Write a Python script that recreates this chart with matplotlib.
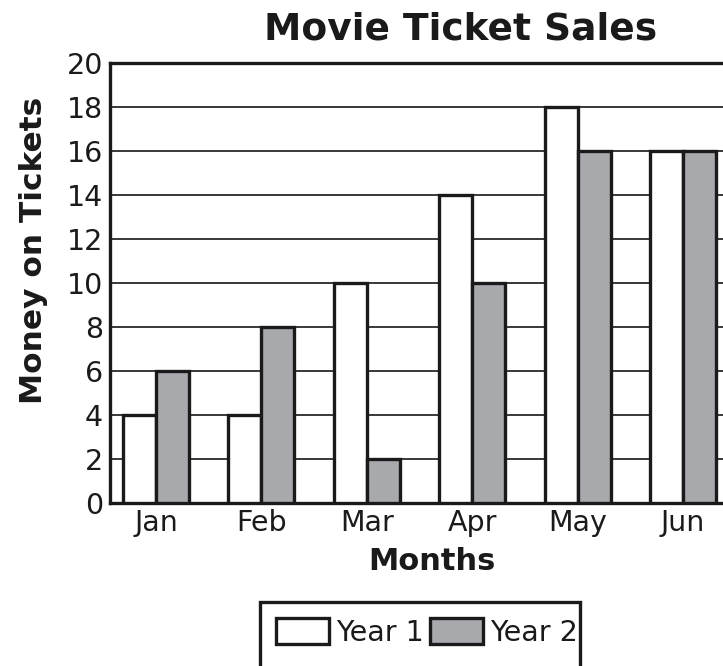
import numpy as np
import matplotlib
matplotlib.use('Agg')
import matplotlib.pyplot as plt
from matplotlib.patches import Rectangle

months = ['Jan', 'Feb', 'Mar', 'Apr', 'May', 'Jun']
year1 = [4, 4, 10, 14, 18, 16]
year2 = [6, 8, 2, 10, 16, 16]
y_ticks = list(range(0, 21, 2))

GRAY = '#a7a9ac'
INK = '#1a1a1a'
plt.rcParams['font.family'] = 'DejaVu Sans'

fig = plt.figure(figsize=(7.23, 6.66), dpi=100)
ax = fig.add_axes([110/723, 163/666, 619/723, 440/666])

x = np.arange(len(months))
w = 0.313
ax.bar(x - w/2, year1, w, color='white', edgecolor=INK, lw=2.4, label='Year 1', zorder=3)
ax.bar(x + w/2, year2, w, color=GRAY, edgecolor=INK, lw=2.4, label='Year 2', zorder=3)

ax.set_xlim(-0.436, len(months) - 1 + 0.436)
ax.set_ylim(0, 20)
ax.set_yticks(y_ticks)
ax.set_xticks(x)
ax.set_xticklabels(months)
ax.tick_params(length=0, labelsize=20.5, labelcolor=INK)
ax.tick_params(axis='x', pad=4)
ax.tick_params(axis='y', pad=5)
for v in y_ticks[1:-1]:
    ax.axhline(v, color='#2a2a2a', lw=1.3, zorder=1)
for s in ax.spines.values():
    s.set_linewidth(2.4)
    s.set_color(INK)
ax.spines['right'].set_visible(False)

ax.set_xlabel('Months', fontsize=22, fontweight='bold', color=INK)
ax.xaxis.set_label_coords(0.52, -0.1)
ax.set_ylabel('Money on Tickets', fontsize=22.5, fontweight='bold', color=INK)
ax.yaxis.set_label_coords(-0.1, 0.575)
fig.text(461/723, 1 - 30/666, 'Movie Ticket Sales', fontsize=27, fontweight='bold',
         ha='center', va='center', color=INK)

# legend entries without frame; box drawn separately so it runs off the bottom edge
leg = fig.legend(loc='upper center', bbox_to_anchor=(427/723, 1 - 601/666), ncol=2,
                 fontsize=20.5, frameon=False,
                 handlelength=1.83, handleheight=1.03, handletextpad=0.25,
                 columnspacing=0.25, borderpad=0.6, borderaxespad=0)
for t in leg.get_texts():
    t.set_color(INK)
fig.patches.append(Rectangle((260/723, -0.05), 320/723, 0.05 + 64/666,
                             transform=fig.transFigure, fill=False,
                             edgecolor=INK, lw=2.4))

fig.savefig('out.png', dpi=100)
